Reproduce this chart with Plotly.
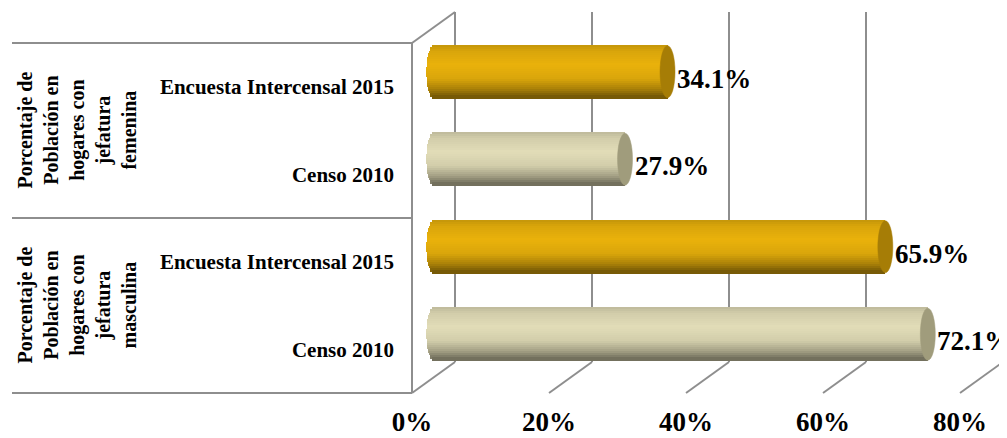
import plotly.graph_objects as go
import numpy as np

# ---------------- data ----------------
group_labels = [
    "Porcentaje de<br>Población en<br>hogares con<br>jefatura<br>masculina",
    "Porcentaje de<br>Población en<br>hogares con<br>jefatura<br>femenina",
]
sub_labels = ["Censo 2010", "Encuesta Intercensal 2015", "Censo 2010", "Encuesta Intercensal 2015"]
series_of_bar = ["Censo 2010", "Encuesta Intercensal 2015", "Censo 2010", "Encuesta Intercensal 2015"]
values = [72.1, 65.9, 27.9, 34.1]
tick_vals = [0, 20, 40, 60, 80]
tick_text = ["0%", "20%", "40%", "60%", "80%"]

# ---------------- styling / geometry ----------------
OFF = 8                      # default page body margin
WIN_W, WIN_H = 1007, 438
W, H = WIN_W - OFF, WIN_H - OFF
ML, MB = 400 - OFF, 44
FONT = "Liberation Serif"
GRID = "#8E8E8E"
X0PX, UX = 412, 6.85      # window px of 0% and px per percent (front plane)
YTOP, US = 43, 87.5       # window px of top slot boundary, px per category slot


def xv(px):
    return (px - X0PX) / UX


def yv(py):
    return 3.5 - (py - YTOP) / US


def xpaper(px):
    return (px - OFF - ML) / (W - ML)


DBX, DBY = 43 / UX, 31 / US       # back wall depth offset
DMX, DMY = 3.2, 15 / US           # bar (middle depth) offset
RX = 7.5 / UX                     # half width of cylinder end ellipse
BH = 52 / US                      # cylinder thickness

base_col = {"Censo 2010": (226, 221, 184), "Encuesta Intercensal 2015": (234, 178, 12)}
cap_col = {"Censo 2010": "rgb(160,156,124)", "Encuesta Intercensal 2015": "rgb(166,125,6)"}


def shade(t):
    # brightness profile of a horizontal cylinder (t=0 top, t=1 bottom)
    pts_t = [0.0, 0.12, 0.38, 0.65, 0.85, 1.0]
    pts_f = [0.84, 0.93, 1.0, 0.93, 0.72, 0.48]
    return float(np.interp(t, pts_t, pts_f))


fig = go.Figure()

N = 26
ypos = np.arange(len(values))
for k in range(N):
    t = (k + 0.5) / N
    rel = 2 * t - 1
    s = np.sqrt(max(0.0, 1 - rel * rel))
    f = shade(t)
    cols = []
    for ser in series_of_bar:
        r, g, b = base_col[ser]
        cols.append(f"rgb({int(r * f)},{int(g * f)},{int(b * f)})")
    fig.add_trace(go.Bar(
        orientation="h",
        y=ypos + DMY + (0.5 - t) * BH,
        x=[v + RX * s for v in values],
        base=DMX - RX * s,
        width=BH / N * 1.8,
        marker=dict(color=cols, line=dict(width=0)),
        hoverinfo="skip",
        showlegend=False,
    ))

shapes = []
# back wall gridlines and floor lines
for tv in tick_vals:
    shapes.append(dict(type="line", xref="x", yref="y", x0=tv + DBX, x1=tv + DBX,
                       y0=-0.5 + DBY, y1=3.5 + DBY, line=dict(color=GRID, width=2), layer="below"))
    shapes.append(dict(type="line", xref="x", yref="y", x0=tv + DBX, x1=tv,
                       y0=-0.5 + DBY, y1=-0.5, line=dict(color=GRID, width=2), layer="below"))
# left side wall
shapes.append(dict(type="line", xref="x", yref="y", x0=0, x1=0, y0=-0.5, y1=3.5,
                   line=dict(color=GRID, width=2), layer="below"))
shapes.append(dict(type="line", xref="x", yref="y", x0=0, x1=DBX, y0=3.5, y1=3.5 + DBY,
                   line=dict(color=GRID, width=2), layer="below"))
# category table lines
for yb in [-0.5, 1.5, 3.5]:
    shapes.append(dict(type="line", xref="paper", yref="y", x0=xpaper(12), x1=xpaper(412),
                       y0=yb, y1=yb, line=dict(color=GRID, width=2)))
# cylinder end caps
for i, (v, ser) in enumerate(zip(values, series_of_bar)):
    xc = DMX + v
    yc = i + DMY
    shapes.append(dict(type="circle", xref="x", yref="y", x0=xc - RX, x1=xc + RX,
                       y0=yc - BH / 2, y1=yc + BH / 2,
                       fillcolor=cap_col[ser], line=dict(color=cap_col[ser], width=0.5)))

annotations = []
for i, v in enumerate(values):
    annotations.append(dict(x=DMX + v + RX, y=i + DMY, xref="x", yref="y", text=f"{v}%",
                            showarrow=False, xanchor="left", yanchor="middle", yshift=-7,
                            font=dict(family=FONT, size=27, color="black", weight="bold")))
for gi, gl in enumerate(group_labels):
    annotations.append(dict(x=xpaper(76), y=0.5 + 2 * gi, xref="paper", yref="y", text=gl,
                            showarrow=False, textangle=-90, xanchor="center", yanchor="middle",
                            font=dict(family=FONT, size=20, color="black", weight="bold")))

fig.update_layout(
    width=W, height=H,
    margin=dict(l=ML, r=0, t=0, b=MB),
    paper_bgcolor="white", plot_bgcolor="white",
    barmode="overlay",
    bargap=0,
    shapes=shapes,
    annotations=annotations,
    xaxis=dict(range=[xv(OFF + ML), xv(WIN_W)], tickvals=tick_vals, ticktext=tick_text,
               showgrid=False, zeroline=False, showline=False, ticks="",
               ticklabelstandoff=9,
               tickfont=dict(family=FONT, size=27, color="black", weight="bold")),
    yaxis=dict(range=[yv(WIN_H - MB), yv(OFF)], tickvals=[0, 1, 2, 3], ticktext=sub_labels,
               showgrid=False, zeroline=False, showline=False, ticks="",
               ticklabelstandoff=5,
               tickfont=dict(family=FONT, size=21, color="black", weight="bold")),
)

fig.write_html("out.html")
